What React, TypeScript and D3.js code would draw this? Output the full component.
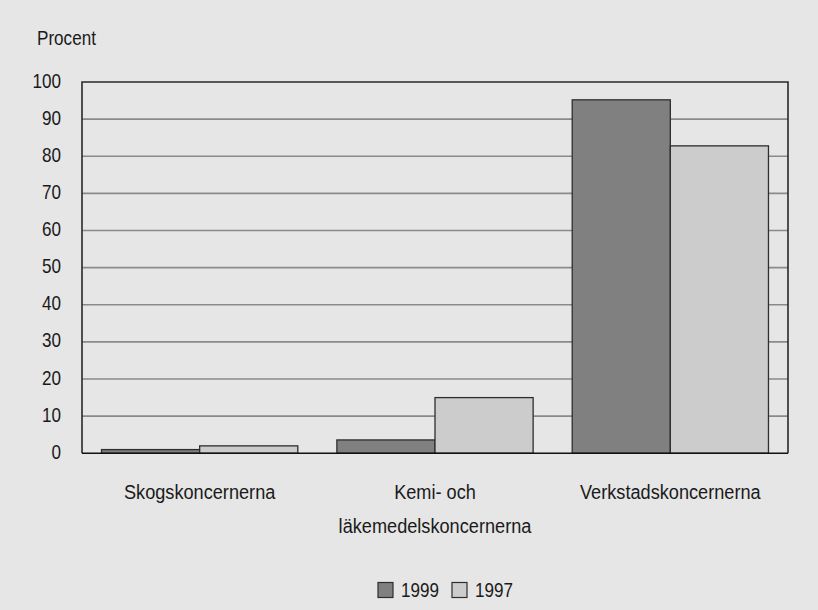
import React from "react";
import * as d3 from "d3";

const categories = [["Skogskoncernerna"], ["Kemi- och", "läkemedelskoncernerna"], ["Verkstadskoncernerna"]];
const seriesNames = ["1999", "1997"];
const values1999 = [1.0, 3.6, 95.2];
const values1997 = [2.0, 15.0, 82.8];
const yTicks = [0, 10, 20, 30, 40, 50, 60, 70, 80, 90, 100];
const colors = ["#808080", "#cccccc"];

const W = 818, H = 610;
const M = { left: 82, top: 82, right: 818 - 788, bottom: 610 - 453.3 };
const FONT = "'Liberation Sans', Arial, sans-serif";

function T({ x, y, anchor = "start", children, size = 20, sx = 0.855 }: any) {
  return (
    <text
      transform={`translate(${x},${y}) scale(${sx},1)`}
      textAnchor={anchor}
      fontFamily={FONT}
      fontSize={size}
      fill="#1a1a1a"
    >
      {children}
    </text>
  );
}

export default function App() {
  const x0 = d3.scaleBand<number>().domain(d3.range(categories.length)).range([M.left, W - M.right]).paddingInner(0).paddingOuter(0);
  const groupW = x0.bandwidth() * 0.834;
  const x1 = d3.scaleBand<number>().domain([0, 1]).range([0, groupW]);
  const y = d3.scaleLinear().domain([0, 100]).range([H - M.bottom, M.top]);
  const series = [values1999, values1997];

  return (
    <svg width={W} height={H} style={{ position: "absolute", left: 0, top: 0 }}>
      <rect x={0} y={0} width={W} height={H} fill="#e6e6e6" />
      {yTicks.filter((t) => t > 0 && t < 100).map((t) => (
        <line key={t} x1={M.left} x2={W - M.right} y1={y(t)} y2={y(t)} stroke="#8a8a8a" strokeWidth={1.6} />
      ))}
      {categories.map((c, i) => {
        const gx = (x0(i) as number) + (x0.bandwidth() - groupW) / 2;
        return series.map((vals, s) => (
          <rect
            key={`${i}-${s}`}
            x={gx + (x1(s) as number)}
            y={y(vals[i])}
            width={x1.bandwidth()}
            height={y(0) - y(vals[i])}
            fill={colors[s]}
            stroke="#2e2e2e"
            strokeWidth={1.3}
          />
        ));
      })}
      <path
        d={`M${M.left},${y(0)} V${M.top} H${W - M.right} V${y(0)}`}
        fill="none"
        stroke="#2a2a2a"
        strokeWidth={1.6}
      />
      <line x1={M.left} x2={W - M.right} y1={y(0)} y2={y(0)} stroke="#111" strokeWidth={1.6} />
      {yTicks.map((t) => (
        <T key={t} x={61} y={y(t) + 5.5} anchor="end">{t}</T>
      ))}
      <T x={37} y={45}>Procent</T>
      {categories.map((lines, i) => {
        const cx = (x0(i) as number) + x0.bandwidth() / 2;
        return lines.map((l, k) => (
          <T key={`${i}-${k}`} x={cx} y={499 + k * 34} anchor="middle" size={21} sx={0.865}>{l}</T>
        ));
      })}
      {seriesNames.map((n, s) => {
        const lx = 378 + s * 74;
        return (
          <g key={n}>
            <rect x={lx} y={582.5} width={15} height={15} fill={colors[s]} stroke="#2e2e2e" strokeWidth={1.2} />
            <T x={lx + 23} y={596.5}>{n}</T>
          </g>
        );
      })}
    </svg>
  );
}
